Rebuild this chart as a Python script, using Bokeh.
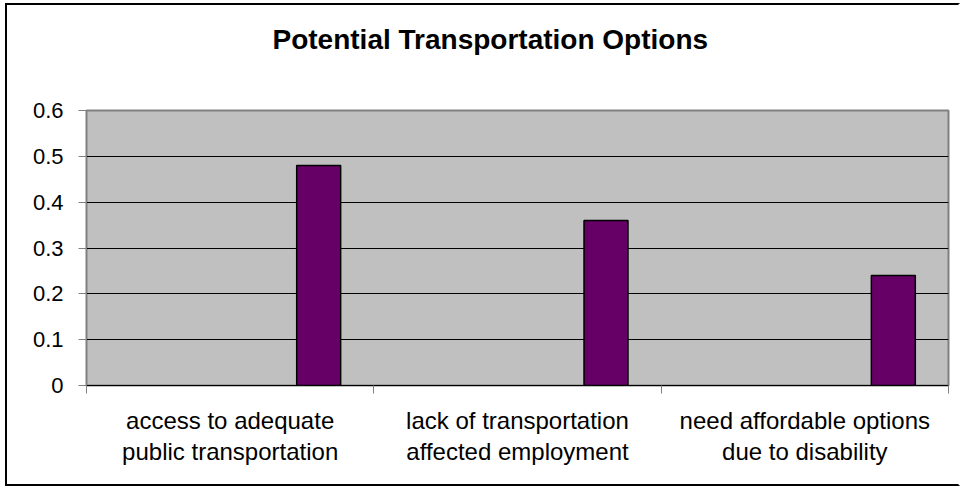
from bokeh.plotting import figure
from bokeh.models import FixedTicker, Range1d, ColumnDataSource, Title
from bokeh.embed import file_html
from bokeh.resources import INLINE

title_text = "Potential Transportation Options"
categories = ["access to adequate\npublic transportation",
              "lack of transportation\naffected employment",
              "need affordable options\ndue to disability"]
values = [0.48, 0.36, 0.24]
y_ticks = [0, 0.1, 0.2, 0.3, 0.4, 0.5, 0.6]
y_labels = ["0", "0.1", "0.2", "0.3", "0.4", "0.5", "0.6"]

BAR_OFFSET = 0.808
BAR_WIDTH = 0.153

src = ColumnDataSource(dict(x=[i + BAR_OFFSET for i in range(len(categories))], top=values))

p = figure(width=955, height=483, output_backend="svg", toolbar_location=None,
           x_range=Range1d(0, len(categories)), y_range=Range1d(0, 0.6),
           min_border_left=79, min_border_right=14, min_border_top=105, min_border_bottom=103,
           styles={"margin-left": "5px", "margin-top": "3px",
                   "border-left": "2px solid #000", "border-top": "2px solid #000",
                   "border-bottom": "2px solid #000", "border-right": "2px solid #FFFFFF"})

p.title.text = title_text
p.title.align = "left"
p.title.offset = 186
p.title.text_font = "Liberation Sans"
p.title.text_font_style = "bold"
p.title.text_font_size = "28px"
p.title.text_color = "#000000"

spacer = Title(text=" ", text_font_size="44px", standoff=0)
p.add_layout(spacer, "above")

p.background_fill_color = "#C0C0C0"
p.border_fill_color = "#FFFFFF"
p.outline_line_color = "#808080"
p.outline_line_width = 2

p.vbar(x="x", top="top", width=BAR_WIDTH, bottom=0, source=src,
       fill_color="#660066", line_color="#000000", line_width=1.5)

# y axis
p.yaxis.ticker = FixedTicker(ticks=y_ticks)
p.yaxis.major_label_overrides = {t: l for t, l in zip(y_ticks, y_labels)}
p.yaxis.major_label_text_font = "Liberation Sans"
p.yaxis.major_label_text_font_size = "22px"
p.yaxis.major_label_text_color = "#000000"
p.yaxis.major_tick_in = 0
p.yaxis.major_tick_out = 8
p.yaxis.minor_tick_line_color = None
p.yaxis.axis_line_color = "#808080"
p.yaxis.major_tick_line_color = "#808080"
p.yaxis.major_label_standoff = 15

# x axis: labels at centers, ticks at boundaries
centers = [i + 0.5 for i in range(len(categories))]
p.xaxis.ticker = FixedTicker(ticks=centers, minor_ticks=list(range(len(categories) + 1)))
p.xaxis.major_label_overrides = {c: l for c, l in zip(centers, categories)}
p.xaxis.major_label_text_font = "Liberation Sans"
p.xaxis.major_label_text_font_size = "24px"
p.xaxis.major_label_text_line_height = 1.15
p.xaxis.major_label_text_color = "#000000"
p.xaxis.major_label_text_align = "center"
p.xaxis.major_tick_line_color = None
p.xaxis.minor_tick_in = 0
p.xaxis.minor_tick_out = 8
p.xaxis.minor_tick_line_color = "#808080"
p.xaxis.axis_line_color = "#000000"
p.xaxis.major_label_standoff = 13

p.xgrid.grid_line_color = None
p.ygrid.ticker = FixedTicker(ticks=y_ticks)
p.ygrid.grid_line_color = "#000000"
p.ygrid.grid_line_width = 1

open("out.html", "w").write(file_html(p, INLINE))
